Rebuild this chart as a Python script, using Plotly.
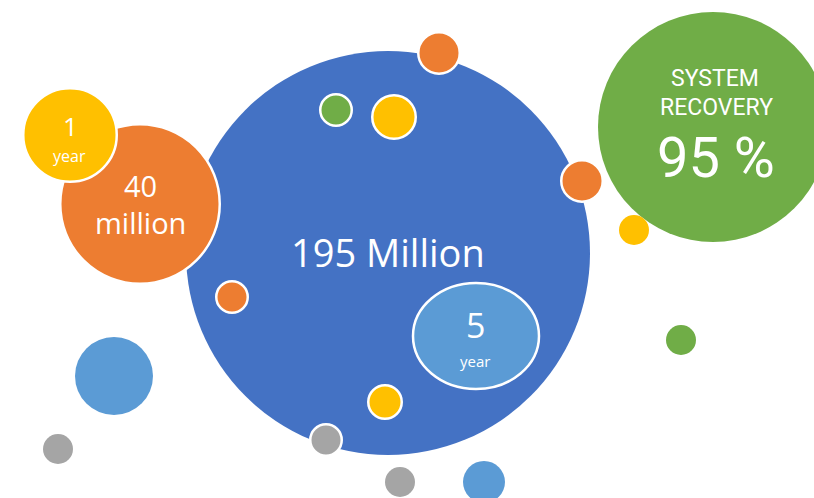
import plotly.graph_objects as go

# ---- bubble data (pixel-like coordinate space of the infographic) ----
bubble_names = ["Main", "Forty", "OneYear", "Recovery", "OrangeTop", "GreenSmall",
                "YellowTop", "OrangeRight", "YellowRight", "OrangeLeft", "LightBlueLeft",
                "GrayLeft", "GrayEdge", "YellowBottom", "GrayBottom", "LightBlueBottom",
                "GreenRight"]
bubble_x = [388, 140, 70, 713, 439, 336, 394, 582, 634, 232, 114, 58, 326, 385, 400, 484, 681]
bubble_y = [253, 204, 135, 127, 53, 110, 117, 181, 230, 297, 376, 449, 440, 402, 482, 482, 340]
bubble_r = [202, 81, 48, 115, 22, 17, 23, 22, 15, 17, 39, 15, 17, 18, 15, 21, 15]
bubble_color = ["#4472C4", "#ED7D31", "#FFC000", "#70AD47", "#ED7D31", "#70AD47",
                "#FFC000", "#ED7D31", "#FFC000", "#ED7D31", "#5B9BD5",
                "#A5A5A5", "#A5A5A5", "#FFC000", "#A5A5A5", "#5B9BD5", "#70AD47"]
bubble_border = [0, 1, 1, 0, 1, 1, 1, 1, 0, 1, 0, 0, 1, 1, 0, 0, 0]

# ---- the "5 year" ellipse ----
ellipse_cx, ellipse_cy = 476, 336
ellipse_rx, ellipse_ry = 63, 53
ellipse_color = "#5B9BD5"

# ---- text labels ----
label_text = ["195 Million", "40", "million", "1", "year", "5", "year",
              "SYSTEM", "RECOVERY", "95 %"]
label_x = [388, 140, 140, 70, 69, 475, 475, 715, 716, 716]
label_y = [252, 185, 222, 126, 156, 325, 361, 78, 107, 158]
label_size = [38, 29, 29, 26, 16, 34, 15, 23, 23, 56]
label_font = ["Open Sans"] * 7 + ["Roboto", "Roboto", "Roboto"]

W, H = 814, 498

fig = go.Figure()

bw = 2.5
sizes = [2 * r - (bw if b else 0) for r, b in zip(bubble_r, bubble_border)]
line_w = [bw if b else 0 for b in bubble_border]

fig.add_trace(go.Scatter(
    x=bubble_x, y=bubble_y, mode="markers",
    text=bubble_names, hoverinfo="text",
    marker=dict(size=sizes, color=bubble_color, opacity=1,
                line=dict(color="white", width=line_w)),
    cliponaxis=True, showlegend=False,
))

fig.add_shape(type="circle", xref="x", yref="y",
              x0=ellipse_cx - ellipse_rx, x1=ellipse_cx + ellipse_rx,
              y0=ellipse_cy - ellipse_ry, y1=ellipse_cy + ellipse_ry,
              fillcolor=ellipse_color, line=dict(color="white", width=2.5),
              layer="above")

for t, x, y, s, f in zip(label_text, label_x, label_y, label_size, label_font):
    fig.add_annotation(x=x, y=y, text=t, showarrow=False, xanchor="center", yanchor="middle",
                       font=dict(family=f, size=s, color="white"))

fig.update_layout(
    width=W, height=H, margin=dict(l=0, r=0, t=0, b=0),
    paper_bgcolor="white", plot_bgcolor="white",
    xaxis=dict(range=[0, W], visible=False, fixedrange=True),
    yaxis=dict(range=[H, 0], visible=False, fixedrange=True),
)

fig.write_html("out.html")
